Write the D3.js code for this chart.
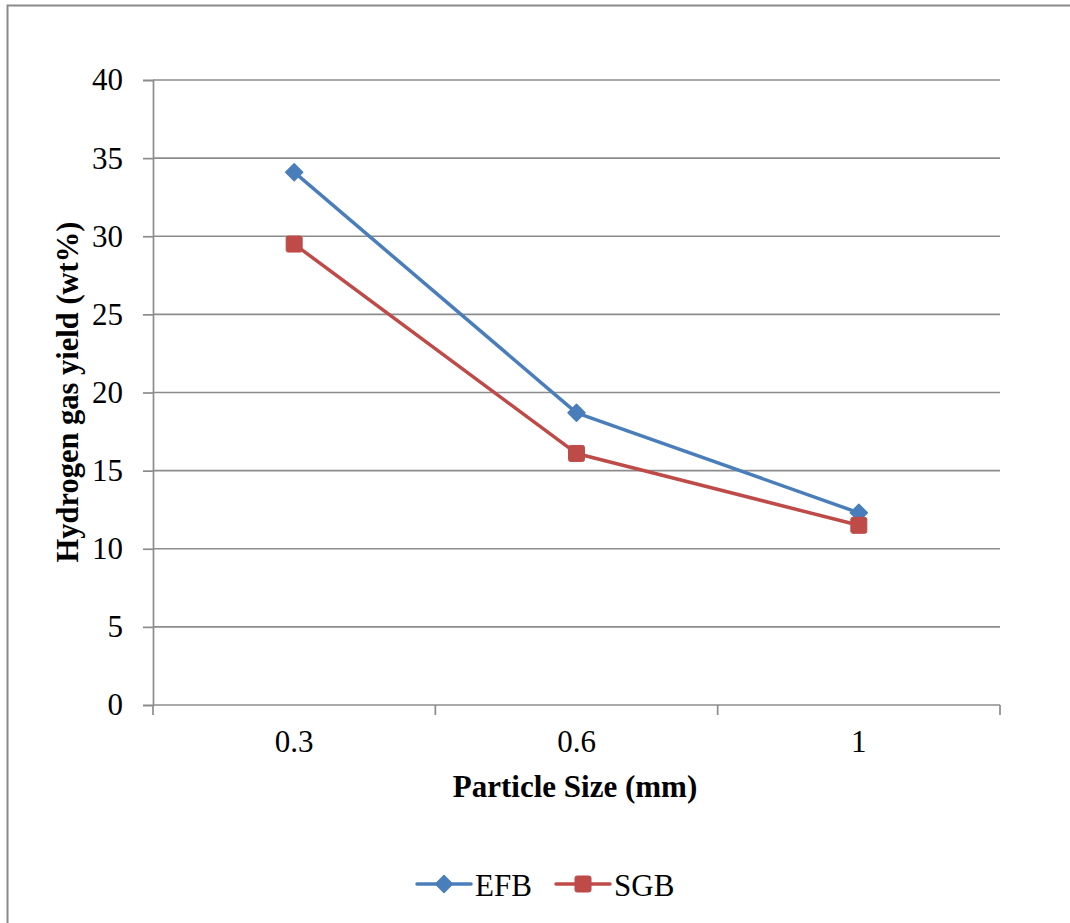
<!DOCTYPE html>
<html>
<head>
<meta charset="utf-8">
<script src="https://cdn.jsdelivr.net/npm/d3@7"></script>
<style>
  html, body { margin: 0; padding: 0; background: #fff; }
  svg { display: block; font-family: "Liberation Serif", "Times New Roman", serif; }
</style>
</head>
<body>
<svg id="chart" width="1070" height="923"></svg>
<script>
// Particle size categories (mm)
const categories = ["0.3", "0.6", "1"];
// Hydrogen gas yield (wt%) per feedstock
const efbValues = [34.1, 18.7, 12.3];
const sgbValues = [29.5, 16.1, 11.5];
const yTicks = [0, 5, 10, 15, 20, 25, 30, 35, 40];

const seriesList = [
  { name: "EFB", values: efbValues, color: "#4a7ebb", marker: "diamond" },
  { name: "SGB", values: sgbValues, color: "#be4b48", marker: "square" }
];

const FS = 31;
const svg = d3.select("#chart");
const plot = { left: 153, right: 1000, top: 80, bottom: 705 };

// outer chart frame (top and left edges visible)
svg.append("path")
  .attr("d", "M7.5,923 L7.5,5.5 L1070,5.5")
  .attr("fill", "none").attr("stroke", "#8a8a8a").attr("stroke-width", 2);

const x = d3.scaleBand().domain(categories).range([plot.left, plot.right]);
const y = d3.scaleLinear().domain([0, 40]).range([plot.bottom, plot.top]);

// horizontal gridlines
svg.append("g").selectAll("line").data(yTicks.filter(d => d > 0)).join("line")
  .attr("x1", plot.left).attr("x2", plot.right)
  .attr("y1", d => y(d)).attr("y2", d => y(d))
  .attr("stroke", "#8c8c8c").attr("stroke-width", 1.7);

// y axis
const yAxis = svg.append("g").attr("transform", `translate(${plot.left},0)`)
  .call(d3.axisLeft(y).tickValues(yTicks).tickSize(10).tickPadding(20));
yAxis.select(".domain").attr("stroke", "#8c8c8c").attr("stroke-width", 1.7);
yAxis.selectAll(".tick line").attr("stroke", "#8c8c8c").attr("stroke-width", 1.7);
yAxis.selectAll(".tick text").attr("font-size", FS).attr("fill", "#000")
  .attr("font-family", "Liberation Serif, serif");

// x axis: ticks at category boundaries
const xAxisG = svg.append("g").attr("transform", `translate(0,${plot.bottom})`);
xAxisG.append("line").attr("x1", plot.left).attr("x2", plot.right)
  .attr("stroke", "#8c8c8c").attr("stroke-width", 1.7);
const bounds = categories.map(c => x(c)).concat([x(categories[categories.length - 1]) + x.bandwidth()]);
xAxisG.selectAll("line.tk").data(bounds).join("line").attr("class", "tk")
  .attr("x1", d => d).attr("x2", d => d).attr("y1", 0).attr("y2", 10)
  .attr("stroke", "#8c8c8c").attr("stroke-width", 1.7);
xAxisG.selectAll("text").data(categories).join("text")
  .attr("x", d => x(d) + x.bandwidth() / 2).attr("y", 47)
  .attr("text-anchor", "middle").attr("font-size", FS).text(d => d);

// axis titles
svg.append("text").attr("x", 575).attr("y", 797)
  .attr("text-anchor", "middle").attr("font-size", FS).attr("font-weight", "bold")
  .text("Particle Size (mm)");
svg.append("text").attr("transform", `translate(78,392) rotate(-90)`)
  .attr("text-anchor", "middle").attr("font-size", 30.5).attr("font-weight", "bold")
  .text("Hydrogen gas yield (wt%)");

function drawMarker(g, type, color) {
  if (type === "diamond") {
    g.append("path").attr("d", "M0,-8.5 L8.5,0 L0,8.5 L-8.5,0 Z")
      .attr("fill", color).attr("stroke", color).attr("stroke-width", 1.5).attr("stroke-linejoin", "round");
  } else {
    g.append("rect").attr("x", -8).attr("y", -8).attr("width", 16).attr("height", 16)
      .attr("rx", 2).attr("fill", color).attr("stroke", color).attr("stroke-width", 1);
  }
}

const cx = d => x(d) + x.bandwidth() / 2;
const line = d3.line().x(d => cx(d.cat)).y(d => y(d.v));

seriesList.forEach(s => {
  const pts = categories.map((c, i) => ({ cat: c, v: s.values[i] }));
  svg.append("path").datum(pts).attr("d", line)
    .attr("fill", "none").attr("stroke", s.color).attr("stroke-width", 3.5)
    .attr("stroke-linejoin", "round");
  pts.forEach(p => {
    const g = svg.append("g").attr("transform", `translate(${cx(p.cat)},${y(p.v)})`);
    drawMarker(g, s.marker, s.color);
  });
});

// legend
const legendItems = [
  { x: 417, textX: 475 },
  { x: 556, textX: 614 }
];
seriesList.forEach((s, i) => {
  const L = legendItems[i];
  const g = svg.append("g").attr("transform", `translate(${L.x},884)`);
  g.append("line").attr("x1", 0).attr("x2", 54).attr("stroke", s.color)
    .attr("stroke-width", 3.5).attr("stroke-linecap", "round");
  const m = g.append("g").attr("transform", "translate(27,0)");
  drawMarker(m, s.marker, s.color);
  svg.append("text").attr("x", L.textX).attr("y", 896).attr("font-size", FS).text(s.name);
});
</script>
</body>
</html>
